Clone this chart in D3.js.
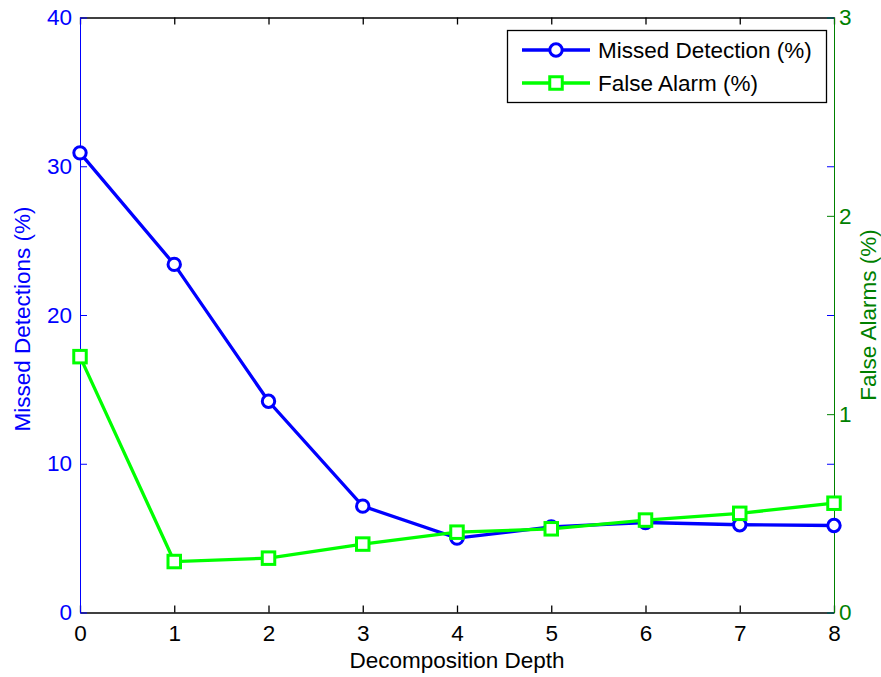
<!DOCTYPE html>
<html>
<head>
<meta charset="utf-8">
<script src="https://cdn.jsdelivr.net/npm/d3@7"></script>
<style>
  body { margin: 0; background: white; }
  svg { display: block; font-family: "Liberation Sans", Arial, sans-serif; }
  .tick text { font-size: 22.5px; }
</style>
</head>
<body>
<svg id="chart" width="881" height="677"></svg>
<script>
// depth values on the x axis
const depths = [0, 1, 2, 3, 4, 5, 6, 7, 8];
// Missed detection (%) on the left axis
const missed = [30.9, 23.4, 14.2, 7.15, 5.0, 5.75, 6.05, 5.9, 5.85];
// False alarm (%) on the right axis
const falseAlarm = [1.29, 0.257, 0.274, 0.345, 0.405, 0.422, 0.466, 0.50, 0.551];
const leftTicks = [0, 10, 20, 30, 40];
const rightTicks = [0, 1, 2, 3];

const blue = "#0000ff";
const green = "#00ff00";
const darkGreen = "#008000";
const fontSize = 22.5;

const svg = d3.select("#chart");
const margin = { top: 17.5, right: 47, bottom: 64.5, left: 80 };
const width = 881, height = 677;

svg.append("rect").attr("width", width).attr("height", height).attr("fill", "white");

const x = d3.scaleLinear().domain([0, 8]).range([margin.left, width - margin.right]);
const yL = d3.scaleLinear().domain([0, 40]).range([height - margin.bottom, margin.top]);
const yR = d3.scaleLinear().domain([0, 3]).range([height - margin.bottom, margin.top]);

// top axis (ticks only)
svg.append("g")
    .attr("transform", `translate(0,${margin.top})`)
    .call(d3.axisTop(x).tickValues(depths).tickSizeInner(-7).tickSizeOuter(0).tickFormat(""))
    .call(g => g.selectAll("line, path").attr("stroke", "black").attr("stroke-width", 1.3));

// bottom axis
svg.append("g")
    .attr("transform", `translate(0,${height - margin.bottom})`)
    .call(d3.axisBottom(x).tickValues(depths).tickSizeInner(-7).tickSizeOuter(0).tickPadding(13))
    .call(g => g.selectAll("line, path").attr("stroke", "black").attr("stroke-width", 1.3))
    .call(g => g.selectAll("text").attr("fill", "black"));

// left ticks mirrored on the right side
svg.append("g")
    .attr("transform", `translate(${width - margin.right},0)`)
    .call(d3.axisRight(yL).tickValues(leftTicks).tickSizeInner(-7).tickSizeOuter(0).tickFormat(""))
    .call(g => g.select(".domain").remove())
    .call(g => g.selectAll("line").attr("stroke", blue));

// left axis
svg.append("g")
    .attr("transform", `translate(${margin.left},0)`)
    .call(d3.axisLeft(yL).tickValues(leftTicks).tickSizeInner(-7).tickSizeOuter(0).tickPadding(8))
    .call(g => g.selectAll("line, path").attr("stroke", blue))
    .call(g => g.selectAll("text").attr("fill", blue));

// right axis
svg.append("g")
    .attr("transform", `translate(${width - margin.right},0)`)
    .call(d3.axisRight(yR).tickValues(rightTicks).tickSizeInner(-7).tickSizeOuter(0).tickPadding(5)
        .tickFormat(d3.format("d")))
    .call(g => g.selectAll("line, path").attr("stroke", darkGreen))
    .call(g => g.selectAll("text").attr("fill", darkGreen));

// axis titles
svg.append("text")
    .attr("transform", `translate(30,${(yL(0) + yL(40)) / 2 + 4}) rotate(-90)`)
    .attr("text-anchor", "middle")
    .attr("font-size", fontSize)
    .attr("fill", blue)
    .text("Missed Detections (%)");

svg.append("text")
    .attr("transform", `translate(876,${(yR(0) + yR(3)) / 2}) rotate(-90)`)
    .attr("text-anchor", "middle")
    .attr("font-size", fontSize)
    .attr("fill", darkGreen)
    .text("False Alarms (%)");

svg.append("text")
    .attr("x", (x(0) + x(8)) / 2)
    .attr("y", 668)
    .attr("text-anchor", "middle")
    .attr("font-size", fontSize)
    .attr("fill", "black")
    .text("Decomposition Depth");

// Missed detection line
const lineL = d3.line().x((d, i) => x(depths[i])).y(d => yL(d));
svg.append("path")
    .datum(missed)
    .attr("d", lineL)
    .attr("fill", "none")
    .attr("stroke", blue)
    .attr("stroke-width", 3.3);

svg.selectAll(".md-dot")
    .data(missed)
    .enter()
    .append("circle")
    .attr("class", "md-dot")
    .attr("cx", (d, i) => x(depths[i]))
    .attr("cy", d => yL(d))
    .attr("r", 6.2)
    .attr("fill", "white")
    .attr("stroke", blue)
    .attr("stroke-width", 3);

// False alarm line
const lineR = d3.line().x((d, i) => x(depths[i])).y(d => yR(d));
svg.append("path")
    .datum(falseAlarm)
    .attr("d", lineR)
    .attr("fill", "none")
    .attr("stroke", green)
    .attr("stroke-width", 3.3);

const sq = 12.5;
svg.selectAll(".fa-dot")
    .data(falseAlarm)
    .enter()
    .append("rect")
    .attr("class", "fa-dot")
    .attr("x", (d, i) => x(depths[i]) - sq / 2)
    .attr("y", d => yR(d) - sq / 2)
    .attr("width", sq)
    .attr("height", sq)
    .attr("fill", "white")
    .attr("stroke", green)
    .attr("stroke-width", 3);

// Legend
const legend = svg.append("g");
legend.append("rect")
    .attr("x", 507.5).attr("y", 30.5)
    .attr("width", 319).attr("height", 72)
    .attr("fill", "white")
    .attr("stroke", "black")
    .attr("stroke-width", 1.3);

const legendItems = [
    { label: "Missed Detection (%)", color: blue, shape: "circle", y: 50 },
    { label: "False Alarm (%)", color: green, shape: "square", y: 83 }
];

legendItems.forEach(item => {
    legend.append("line")
        .attr("x1", 522).attr("x2", 590)
        .attr("y1", item.y).attr("y2", item.y)
        .attr("stroke", item.color)
        .attr("stroke-width", 3.3);
    if (item.shape === "circle") {
        legend.append("circle")
            .attr("cx", 556).attr("cy", item.y).attr("r", 6.2)
            .attr("fill", "white").attr("stroke", item.color).attr("stroke-width", 3);
    } else {
        legend.append("rect")
            .attr("x", 556 - sq / 2).attr("y", item.y - sq / 2)
            .attr("width", sq).attr("height", sq)
            .attr("fill", "white").attr("stroke", item.color).attr("stroke-width", 3);
    }
    legend.append("text")
        .attr("x", 598)
        .attr("y", item.y + 8)
        .attr("font-size", fontSize)
        .attr("fill", "black")
        .text(item.label);
});
</script>
</body>
</html>
